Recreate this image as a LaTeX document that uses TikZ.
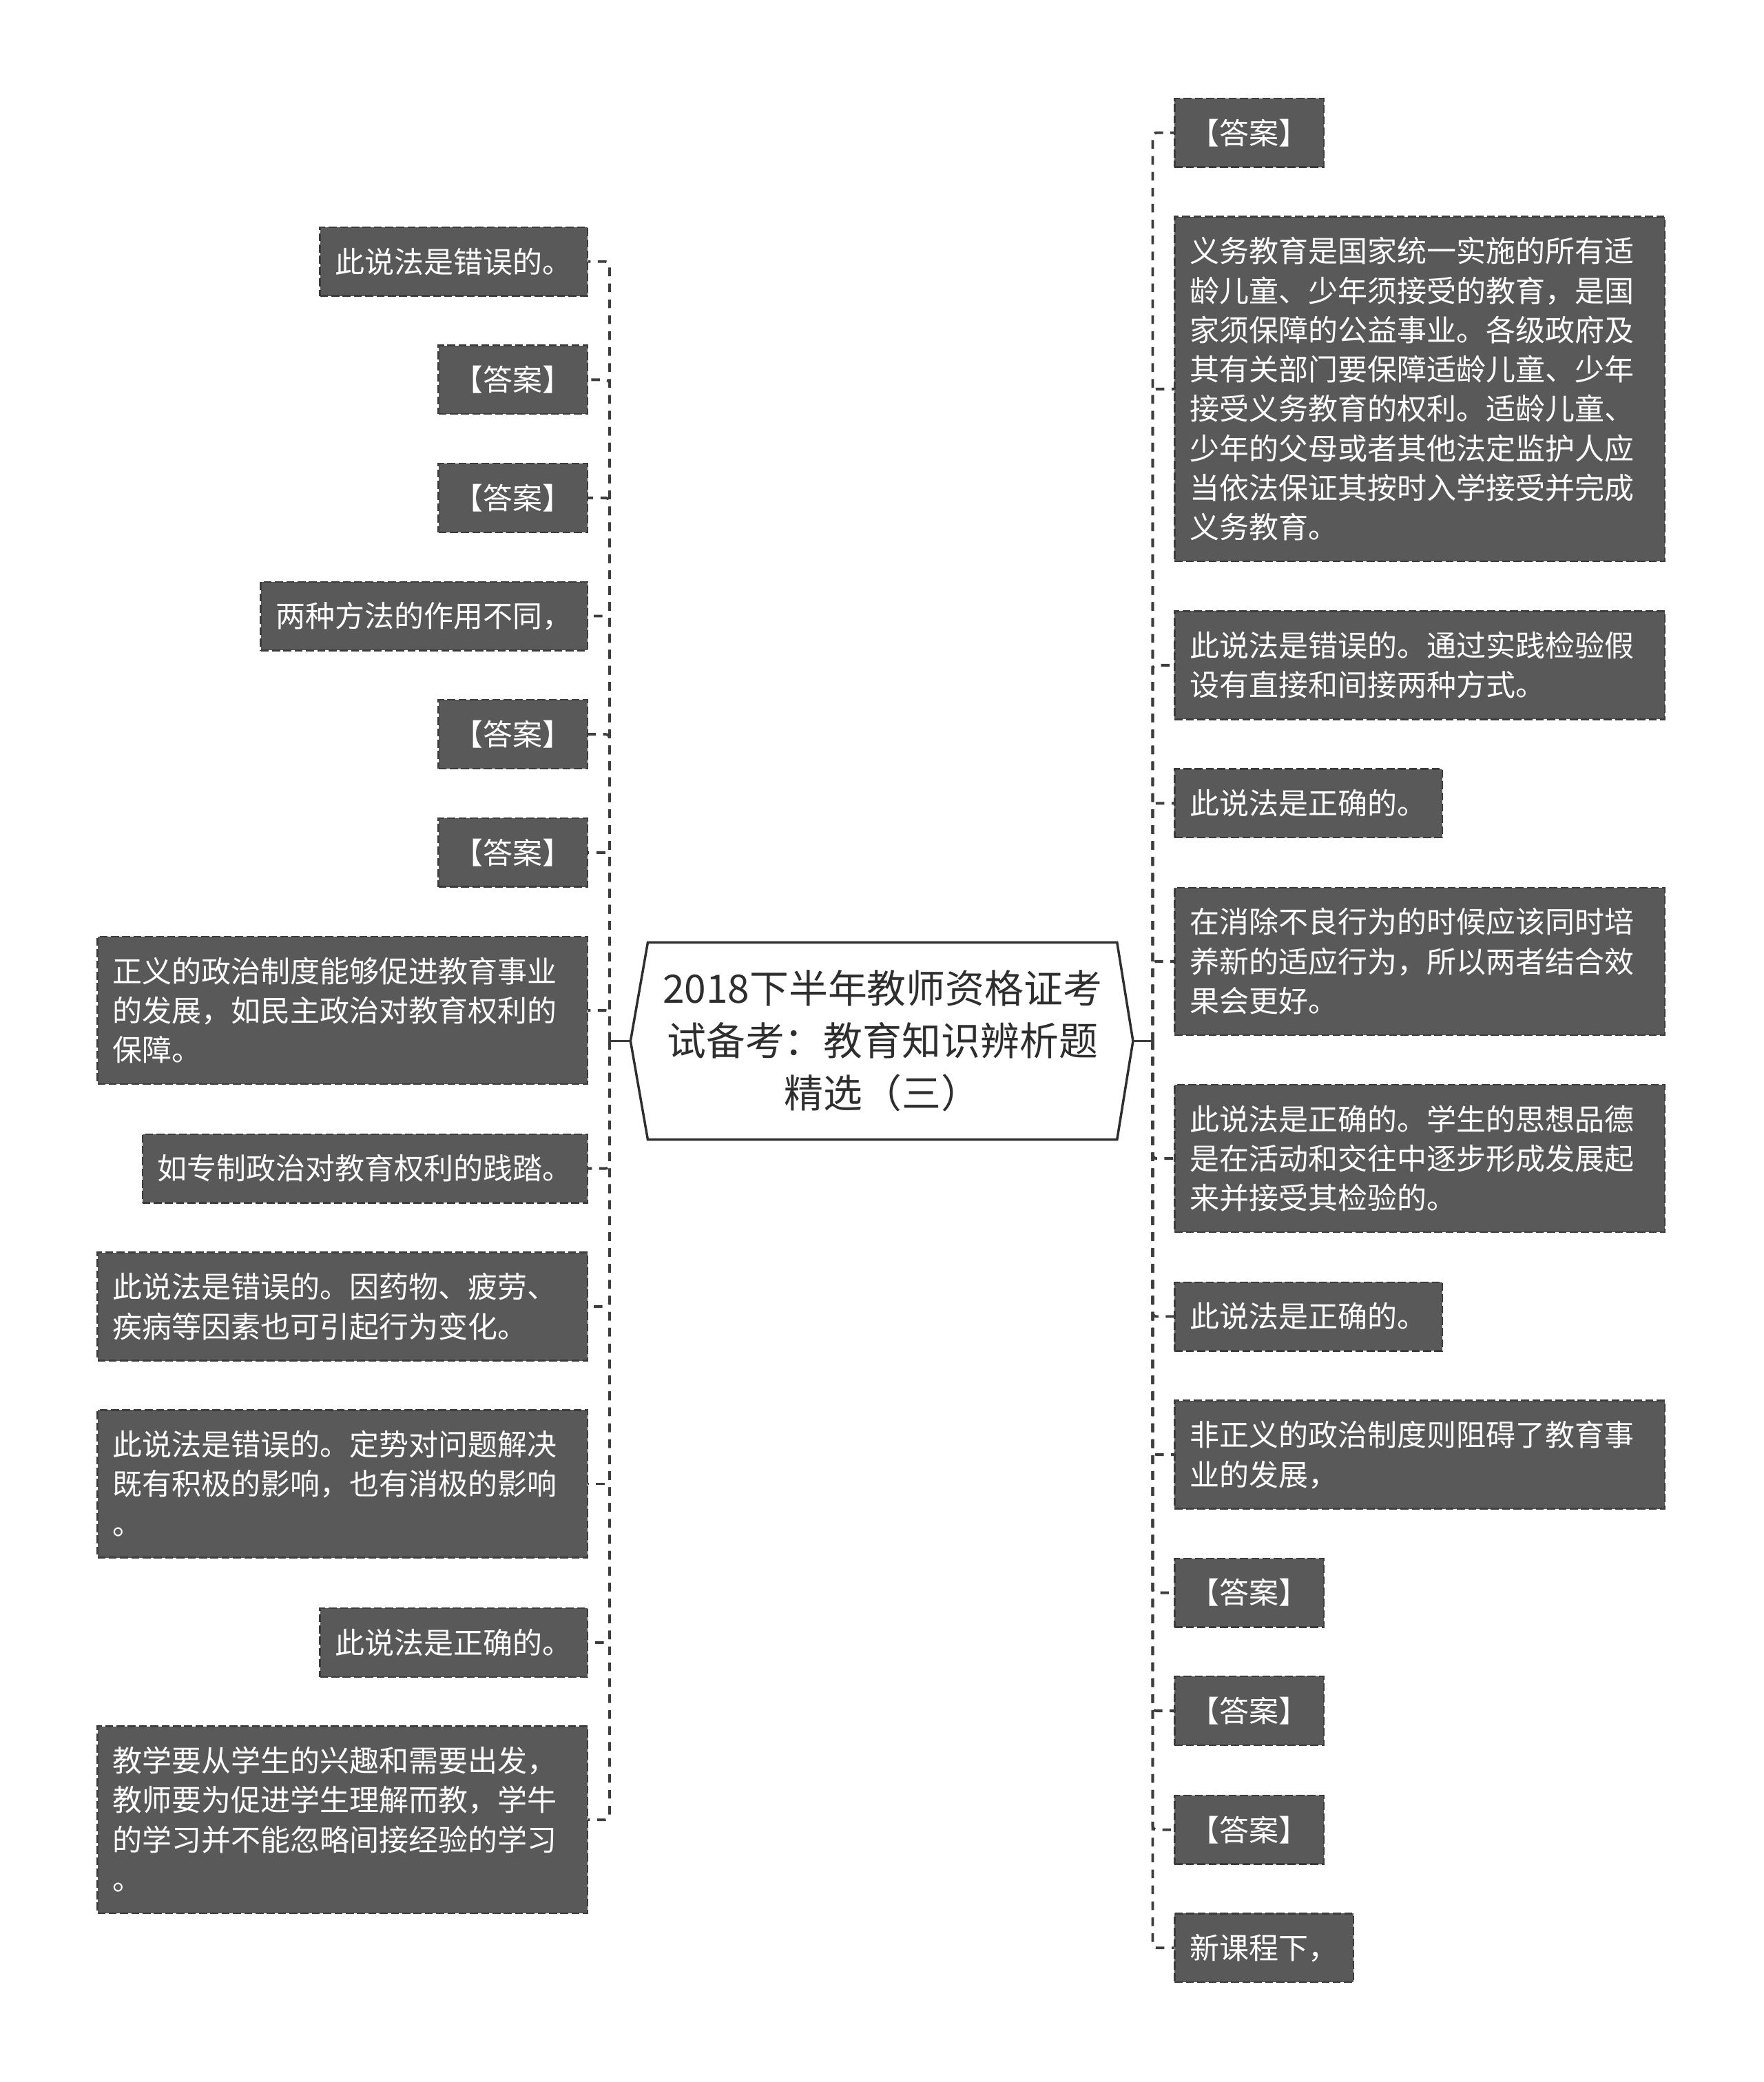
\documentclass[tikz,border=0pt]{standalone}
\usepackage{fontspec}
\setmainfont{Noto Sans CJK SC}
\usetikzlibrary{calc}
\definecolor{boxfill}{HTML}{595959}
\definecolor{boxline}{HTML}{3C3C3C}
\definecolor{conncol}{HTML}{3D3D3D}
\definecolor{rootline}{HTML}{2E2E2E}
\newcommand\zstrut{\rule[-0.12em]{0pt}{1em}}
\begin{document}
\begin{tikzpicture}[x=1pt,y=-1pt,
  leaf/.style={fill=boxfill, draw=boxline, line width=1.2pt, dash pattern=on 6pt off 2.5pt,
    text=white, inner xsep=11.5pt, inner ysep=0pt,
    font=\fontsize{22.3pt}{29.7pt}\selectfont, align=left,
    execute at begin node=\zstrut, execute at end node=\zstrut},
  lf/.style={leaf, anchor=east},
  rt/.style={leaf, anchor=west},
  one/.style={minimum height=51.7pt},
  two/.style={minimum height=81.4pt, text width=346pt},
  three/.style={minimum height=111.1pt, text width=346pt},
  four/.style={minimum height=140.8pt, text width=346pt},
  eight/.style={minimum height=259.6pt, text width=346pt},
  conn/.style={draw=conncol, line width=2pt, dash pattern=on 6.5pt off 5.5pt, rounded corners=3pt},
  stem/.style={draw=conncol, line width=1.8pt},
  rootbox/.style={font=\fontsize{29.5pt}{39.5pt}\selectfont, text=rootline, align=center,
    minimum width=353pt, minimum height=148pt, inner sep=0pt},
  rootedge/.style={draw=rootline, line width=1.8pt, line join=miter},
]
\fill[white] (0,0) rectangle (1328,1568);
\useasboundingbox (0,0) rectangle (1328,1568);

% root
\node[rootbox] (root) at (664.5,784) {2018下半年教师资格证考\\试备考：教育知识辨析题\\精选（三）};
\coordinate (rootL) at ($(root.west)+(-13,0)$);
\coordinate (rootR) at ($(root.east)+(12,0)$);
\draw[rootedge] (root.north west) -- (root.north east) -- (rootR) -- (root.south east)
  -- (root.south west) -- (rootL) -- cycle;

% left children
\node[lf, one]   (L1)  at (443,197)    {此说法是错误的。};
\node[lf, one]   (L2)  at (443,286)    {【答案】};
\node[lf, one]   (L3)  at (443,375)    {【答案】};
\node[lf, one]   (L4)  at (443,464)    {两种方法的作用不同，};
\node[lf, one]   (L5)  at (443,553)    {【答案】};
\node[lf, one]   (L6)  at (443,642)    {【答案】};
\node[lf, three] (L7)  at (443,761)    {正义的政治制度能够促进教育事业\\的发展，如民主政治对教育权利的\\保障。};
\node[lf, one]   (L8)  at (443,880)    {如专制政治对教育权利的践踏。};
\node[lf, two]   (L9)  at (443,984)    {此说法是错误的。因药物、疲劳、\\疾病等因素也可引起行为变化。};
\node[lf, three] (L10) at (443,1117.5) {此说法是错误的。定势对问题解决\\既有积极的影响，也有消极的影响\\。};
\node[lf, one]   (L11) at (443,1237)   {此说法是正确的。};
\node[lf, four]  (L12) at (443,1370.5) {教学要从学生的兴趣和需要出发，\\教师要为促进学生理解而教，学牛\\的学习并不能忽略间接经验的学习\\。};

% right children
\node[rt, one]   (R1)  at (884,100)    {【答案】};
\node[rt, eight] (R2)  at (884,293)    {义务教育是国家统一实施的所有适\\龄儿童、少年须接受的教育，是国\\家须保障的公益事业。各级政府及\\其有关部门要保障适龄儿童、少年\\接受义务教育的权利。适龄儿童、\\少年的父母或者其他法定监护人应\\当依法保证其按时入学接受并完成\\义务教育。};
\node[rt, two]   (R3)  at (884,501)    {此说法是错误的。通过实践检验假\\设有直接和间接两种方式。};
\node[rt, one]   (R4)  at (884,605)    {此说法是正确的。};
\node[rt, three] (R5)  at (884,724)    {在消除不良行为的时候应该同时培\\养新的适应行为，所以两者结合效\\果会更好。};
\node[rt, three] (R6)  at (884,872.5)  {此说法是正确的。学生的思想品德\\是在活动和交往中逐步形成发展起\\来并接受其检验的。};
\node[rt, one]   (R7)  at (884,991.5)  {此说法是正确的。};
\node[rt, two]   (R8)  at (884,1095.5) {非正义的政治制度则阻碍了教育事\\业的发展，};
\node[rt, one]   (R9)  at (884,1199.5) {【答案】};
\node[rt, one]   (R10) at (884,1288.5) {【答案】};
\node[rt, one]   (R11) at (884,1378)   {【答案】};
\node[rt, one]   (R12) at (884,1467)   {新课程下，};

% connectors
\coordinate (jL) at (459,784);
\coordinate (jR) at (868,784);
\draw[stem] (rootL) -- (jL);
\draw[stem] (rootR) -- (jR);
\foreach \i in {1,...,12} {
  \draw[conn] (jL) |- (L\i.east);
  \draw[conn] (jR) |- (R\i.west);
}
\end{tikzpicture}
\end{document}
